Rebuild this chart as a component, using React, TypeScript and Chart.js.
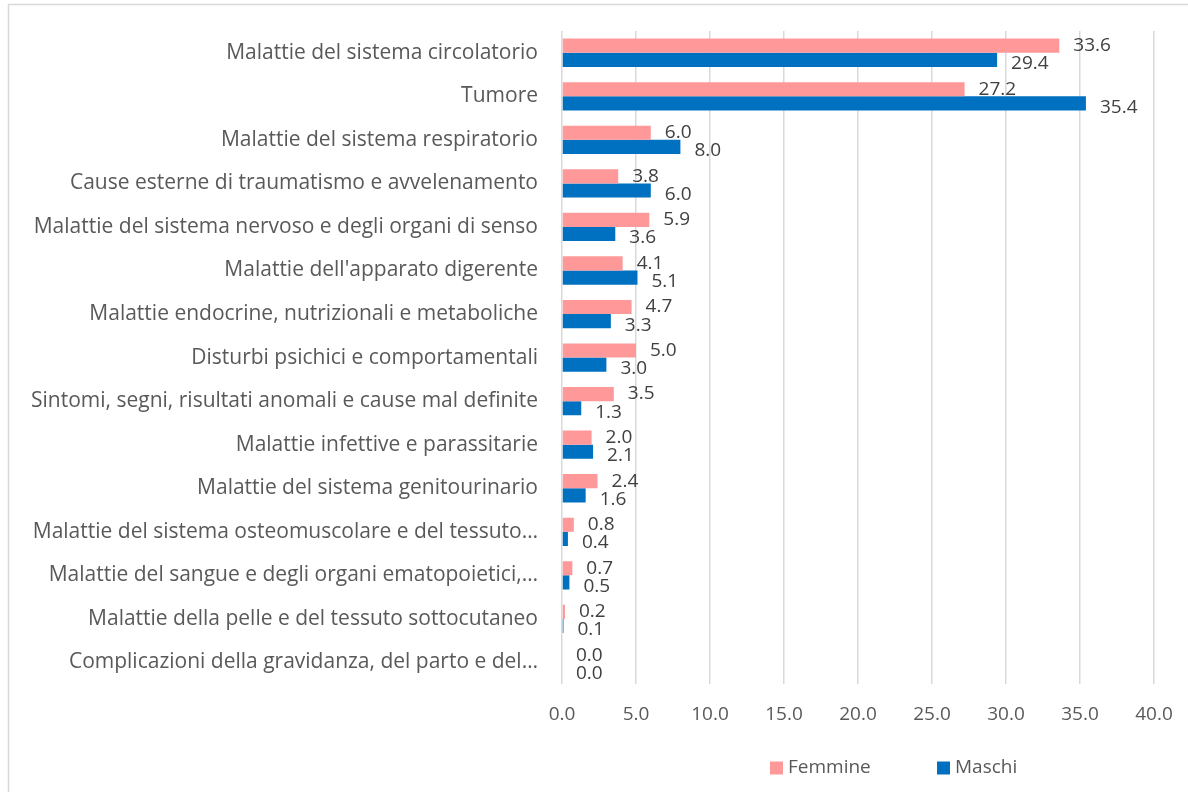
import React, { useEffect, useRef } from "react";
import { Chart, registerables } from "chart.js";

Chart.register(...registerables);

const categories = [
  "Malattie del sistema circolatorio",
  "Tumore",
  "Malattie del sistema respiratorio",
  "Cause esterne di traumatismo e avvelenamento",
  "Malattie del sistema nervoso e degli organi di senso",
  "Malattie dell'apparato digerente",
  "Malattie endocrine, nutrizionali e metaboliche",
  "Disturbi psichici e comportamentali",
  "Sintomi, segni, risultati anomali e cause mal definite",
  "Malattie infettive e parassitarie",
  "Malattie del sistema genitourinario",
  "Malattie del sistema osteomuscolare e del tessuto…",
  "Malattie del sangue e degli organi ematopoietici,…",
  "Malattie della pelle e del tessuto sottocutaneo",
  "Complicazioni della gravidanza, del parto e del…",
];

const femmine = [33.6, 27.2, 6.0, 3.8, 5.9, 4.1, 4.7, 5.0, 3.5, 2.0, 2.4, 0.8, 0.7, 0.2, 0.0];
const maschi = [29.4, 35.4, 8.0, 6.0, 3.6, 5.1, 3.3, 3.0, 1.3, 2.1, 1.6, 0.4, 0.5, 0.1, 0.0];

const seriesNames = ["Femmine", "Maschi"];
const seriesColors = ["#FF9999", "#0070C0"];

const xMin = 0;
const xMax = 40;
const xStep = 5;

const FONT = "'Open Sans', 'Noto Sans', sans-serif";
const TEXT = "#595959";

const frameAndLabels = {
  id: "frameAndLabels",
  beforeDraw(chart: any) {
    const ctx = chart.ctx;
    ctx.save();
    ctx.fillStyle = "#ffffff";
    ctx.fillRect(0, 0, chart.width, chart.height);
    ctx.strokeStyle = "#d9d9d9";
    ctx.lineWidth = 1.5;
    ctx.strokeRect(8.5, 4.5, chart.width + 20, chart.height + 20);
    ctx.restore();
  },
  afterDatasetsDraw(chart: any) {
    const ctx = chart.ctx;
    ctx.save();
    ctx.font = `19px ${FONT}`;
    ctx.fillStyle = "#404040";
    ctx.textAlign = "left";
    ctx.textBaseline = "middle";
    chart.data.datasets.forEach((ds: any, di: number) => {
      const meta = chart.getDatasetMeta(di);
      meta.data.forEach((bar: any, i: number) => {
        const v = ds.data[i] as number;
        const dy = di === 0 ? 0 : 4;
        ctx.fillText(v.toFixed(1), bar.x + 14, bar.y + dy);
      });
    });
    // legend
    const ca = chart.chartArea;
    const y = chart.height - 24;
    const starts = [ca.left + 208, ca.left + 375];
    ctx.font = `19px ${FONT}`;
    seriesNames.forEach((name, i) => {
      ctx.fillStyle = seriesColors[i];
      ctx.fillRect(starts[i], y - 6.5, 13, 13);
      ctx.fillStyle = TEXT;
      ctx.fillText(name, starts[i] + 18, y);
    });
    ctx.restore();
  },
};

export default function App() {
  const ref = useRef<HTMLCanvasElement | null>(null);
  useEffect(() => {
    if (!ref.current) return;
    const chart = new Chart(ref.current, {
      type: "bar",
      data: {
        labels: categories,
        datasets: [
          {
            label: seriesNames[0],
            data: femmine,
            backgroundColor: seriesColors[0],
            categoryPercentage: 0.65,
            barPercentage: 1,
          },
          {
            label: seriesNames[1],
            data: maschi,
            backgroundColor: seriesColors[1],
            categoryPercentage: 0.65,
            barPercentage: 1,
          },
        ],
      },
      options: {
        indexAxis: "y",
        responsive: true,
        maintainAspectRatio: false,
        animation: false,
        layout: { padding: { top: 31, right: 34, bottom: 47, left: 0 } },
        plugins: {
          legend: { display: false },
          tooltip: { enabled: false },
        },
        scales: {
          x: {
            min: xMin,
            max: xMax,
            ticks: {
              stepSize: xStep,
              callback: (v: any) => Number(v).toFixed(1),
              font: { family: FONT, size: 19 },
              color: TEXT,
              padding: 19,
            },
            grid: { color: "#d9d9d9", lineWidth: 1.5, drawTicks: false },
            border: { display: false },
            afterFit(scale: any) {
              scale.paddingLeft = 0;
              scale.paddingRight = 0;
            },
          },
          y: {
            ticks: {
              font: { family: FONT, size: 21 },
              color: TEXT,
              padding: 24,
              autoSkip: false,
            },
            grid: { display: false, drawTicks: false },
            border: { display: false },
            afterFit(scale: any) {
              scale.width = 562;
              scale.paddingTop = 0;
              scale.paddingBottom = 0;
            },
          },
        },
      },
      plugins: [frameAndLabels],
    } as any);
    return () => chart.destroy();
  }, []);
  return (
    <div style={{ position: "absolute", left: 0, top: 0, width: 1188, height: 792 }}>
      <canvas ref={ref} />
    </div>
  );
}
